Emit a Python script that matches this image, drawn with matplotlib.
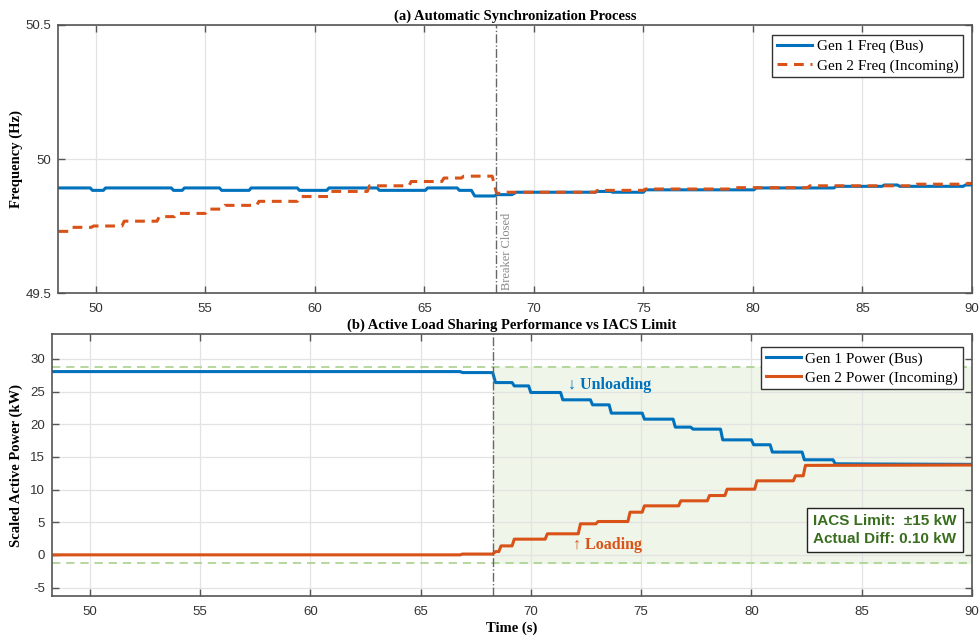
import numpy as np
import matplotlib
matplotlib.use("Agg")
from matplotlib import pyplot as plt

# --- data --------------------------------------------------------------
t_close = 68.27

# (a) frequency, step points (time, Hz)
t_f1 = [48.3, 49.75, 49.85, 50.35, 50.45, 53.45, 53.55, 53.95, 54.05, 55.65, 55.75,
        57.0, 57.1, 59.2, 59.3, 60.55, 60.65, 62.85, 62.95, 65.05, 65.15, 66.5, 66.6,
        67.15, 67.3, 68.2, 68.3, 69.0, 69.2, 72.8, 72.9, 73.5, 73.6, 75.0, 75.1,
        80.05, 80.15, 83.7, 83.8, 85.9, 86.0, 86.6, 86.7, 89.6, 89.7, 90.0]
f_gen1 = [49.892, 49.892, 49.883, 49.883, 49.892, 49.892, 49.883, 49.883, 49.892, 49.892, 49.883,
          49.883, 49.892, 49.892, 49.883, 49.883, 49.892, 49.892, 49.883, 49.883, 49.892, 49.892, 49.883,
          49.883, 49.862, 49.862, 49.867, 49.867, 49.876, 49.876, 49.879, 49.879, 49.876, 49.876, 49.885,
          49.885, 49.892, 49.892, 49.898, 49.898, 49.903, 49.903, 49.898, 49.898, 49.903, 49.903]

t_f2 = [48.3, 48.8, 48.9, 49.8, 49.9, 51.2, 51.3, 52.8, 52.9, 53.6, 53.7, 55.0, 55.1,
        55.8, 55.9, 57.35, 57.45, 59.2, 59.3, 60.65, 60.75, 62.4, 62.5, 64.3, 64.4,
        65.8, 65.9, 66.7, 66.8, 68.1, 68.3, 68.5, 68.6, 72.8, 72.9, 75.0, 75.1,
        79.0, 79.1, 82.5, 82.6, 87.4, 87.5, 89.7, 89.8, 90.0]
f_gen2 = [49.730, 49.730, 49.745, 49.745, 49.750, 49.750, 49.768, 49.768, 49.785, 49.785, 49.797, 49.797, 49.813,
          49.813, 49.827, 49.827, 49.842, 49.842, 49.860, 49.860, 49.879, 49.879, 49.900, 49.900, 49.916,
          49.916, 49.929, 49.929, 49.936, 49.936, 49.872, 49.872, 49.876, 49.876, 49.883, 49.883, 49.888,
          49.888, 49.893, 49.893, 49.900, 49.900, 49.906, 49.906, 49.909, 49.909]

# (b) active power, step points (time, kW)
t_p1 = [48.3, 66.8, 66.9, 68.27, 68.4, 69.15, 69.25, 69.9, 70.0, 71.35, 71.45, 72.7, 72.8,
        73.55, 73.65, 75.05, 75.15, 76.45, 76.55, 77.25, 77.35, 78.6, 78.7, 80.0, 80.1,
        80.85, 80.95, 82.3, 82.4, 83.7, 83.8, 86.0, 90.0]
p_gen1 = [28.05, 28.05, 27.9, 27.9, 26.37, 26.37, 25.86, 25.86, 24.85, 24.85, 23.73, 23.73, 22.96,
          22.96, 21.69, 21.69, 20.77, 20.77, 19.55, 19.55, 19.24, 19.24, 17.6, 17.6, 16.85,
          16.85, 15.73, 15.73, 14.55, 14.55, 13.94, 13.9, 13.85]

t_p2 = [48.3, 66.8, 66.9, 68.27, 68.4, 68.55, 68.65, 69.15, 69.25, 70.65, 70.75, 72.15, 72.25,
        72.95, 73.05, 74.4, 74.5, 75.05, 75.15, 76.7, 76.8, 78.0, 78.1, 78.8, 78.9,
        80.15, 80.25, 81.9, 82.0, 82.35, 82.45, 90.0]
p_gen2 = [0.0, 0.0, 0.12, 0.12, 0.5, 0.5, 1.37, 1.37, 2.4, 2.4, 3.22, 3.22, 4.75,
          4.75, 5.1, 5.1, 6.53, 6.53, 7.5, 7.5, 8.27, 8.27, 9.08, 9.08, 10.05,
          10.05, 11.33, 11.33, 12.1, 12.1, 13.69, 13.75]

iacs_limit = 15.0
p_share = 13.75
actual_diff = 0.10

# --- style --------------------------------------------------------------
blue = "#0072BD"
orange = "#D95319"
serif = ["Liberation Serif", "DejaVu Serif"]
sans = ["Liberation Sans", "DejaVu Sans"]
plt.rcParams["font.family"] = sans
plt.rcParams["axes.unicode_minus"] = False
plt.rcParams["axes.edgecolor"] = "#555555"
plt.rcParams["xtick.color"] = "#555555"
plt.rcParams["ytick.color"] = "#555555"
plt.rcParams["xtick.labelcolor"] = "#333333"
plt.rcParams["ytick.labelcolor"] = "#333333"

fig = plt.figure(figsize=(9.8, 6.36), dpi=100)
ax1 = fig.add_axes([0.0592, 0.5393, 0.9326, 0.4214])
ax2 = fig.add_axes([0.0528, 0.0629, 0.9390, 0.4119])


def style(ax):
    ax.grid(True, color="#e3e3e3", linewidth=0.9)
    ax.set_axisbelow(True)
    ax.tick_params(direction="in", length=5, width=1, top=True, right=True,
                   labelsize=9.5)
    ax.tick_params(axis="x", pad=7)
    ax.tick_params(axis="y", pad=5)
    for s in ax.spines.values():
        s.set_linewidth(1.2)
    ax.set_xlim(48.28, 90)
    ax.set_xticks([50, 55, 60, 65, 70, 75, 80, 85, 90])


leg_kw = dict(loc="upper right", prop={"family": serif, "size": 11},
              fancybox=False, edgecolor="#333333", framealpha=1,
              handlelength=2.3, handletextpad=0.3, borderpad=0.3,
              labelspacing=0.35, borderaxespad=0.0)

# (a)
style(ax1)
ax1.plot(t_f1, f_gen1, color=blue, lw=2.2, label="Gen 1 Freq (Bus)")
ax1.plot(t_f2, f_gen2, color=orange, lw=2.2, ls=(0, (3.2, 2.2)), label="Gen 2 Freq (Incoming)")
ax1.axvline(t_close, color="#666666", lw=1.0, ls="-.")
ax1.text(t_close + 0.25, 49.51, "Breaker Closed", rotation=90, color="#888888",
         fontsize=9, family=serif, ha="left", va="bottom")
ax1.set_ylim(49.5, 50.5)
ax1.set_yticks([49.5, 50, 50.5])
ax1.set_yticklabels(["49.5", "50", "50.5"])
ax1.set_ylabel("Frequency (Hz)", family=serif, fontweight="bold", fontsize=10.5)
ax1.yaxis.set_label_coords(-0.038, 0.5)
ax1.set_title("(a) Automatic Synchronization Process", family=serif,
              fontweight="bold", fontsize=10.5, pad=4)
leg = ax1.legend(bbox_to_anchor=(0.990, 0.963), **leg_kw)
leg.get_frame().set_linewidth(1.0)

# (b)
style(ax2)
ax2.axhspan(p_share - iacs_limit, p_share + iacs_limit, xmin=(t_close - 48.28) / (90 - 48.28),
            xmax=1, color="#eff5e8", zorder=0)
ax2.axhline(p_share + iacs_limit, color="#a9d18e", lw=1.2, ls=(0, (5, 3.5)))
ax2.axhline(p_share - iacs_limit, color="#a9d18e", lw=1.2, ls=(0, (5, 3.5)))
ax2.plot(t_p1, p_gen1, color=blue, lw=2.2, label="Gen 1 Power (Bus)")
ax2.plot(t_p2, p_gen2, color=orange, lw=2.2, label="Gen 2 Power (Incoming)")
ax2.axvline(t_close, color="#666666", lw=1.0, ls="-.")
ax2.text(71.7, 26.0, "\u2193 Unloading", color=blue, fontsize=11.5, family=serif,
         fontweight="bold", ha="left", va="center")
ax2.text(71.9, 1.5, "\u2191 Loading", color=orange, fontsize=11.5, family=serif,
         fontweight="bold", ha="left", va="center")
ax2.text(86.05, 3.85, "IACS Limit:  \u00b1%d kW\nActual Diff: %.2f kW" % (iacs_limit, actual_diff),
         color="#3a6e1f", fontsize=11, fontweight="bold", family=sans,
         ha="center", va="center", linespacing=1.35,
         bbox=dict(boxstyle="square,pad=0.4", fc="white", ec="#222222", lw=1.0))
ax2.set_ylim(-6.3, 33.8)
ax2.set_yticks([-5, 0, 5, 10, 15, 20, 25, 30])
ax2.set_ylabel("Scaled Active Power (kW)", family=serif, fontweight="bold", fontsize=10.5)
ax2.yaxis.set_label_coords(-0.031, 0.5)
ax2.set_xlabel("Time (s)", family=serif, fontweight="bold", fontsize=10.5, labelpad=3)
ax2.set_title("(b) Active Load Sharing Performance vs IACS Limit", family=serif,
              fontweight="bold", fontsize=10.5, pad=4)
leg2 = ax2.legend(bbox_to_anchor=(0.990, 0.950), **leg_kw)
leg2.get_frame().set_linewidth(1.0)

fig.savefig("out.png", dpi=100)
